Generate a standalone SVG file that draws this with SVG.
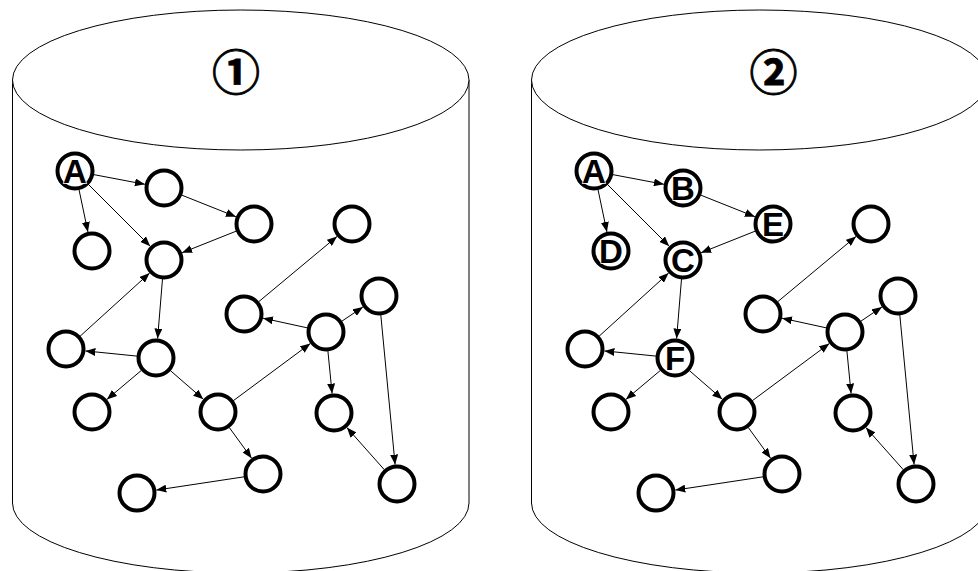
<svg xmlns="http://www.w3.org/2000/svg" width="978" height="571" viewBox="0 0 978 571">
<style>
.cyl{fill:#fff;stroke:#000;stroke-width:1}
.nd{fill:#fff;stroke:#000;stroke-width:4}
.e{stroke:#000;stroke-width:1;fill:none;marker-end:url(#ah)}
.lbl{font-family:"Liberation Sans",Arial,sans-serif;font-weight:bold;font-size:33px;text-anchor:middle;fill:#000;stroke:#fff;stroke-width:1.5;paint-order:stroke}
.num{font-family:"Noto Sans CJK SC","DejaVu Sans",sans-serif;font-weight:bold;font-size:48px;text-anchor:middle;fill:#000;stroke:#000;stroke-width:0.8}
</style>
<defs>
<marker id="ah" markerUnits="userSpaceOnUse" markerWidth="10" markerHeight="8" refX="10" refY="4" orient="auto">
<path d="M0,0 L10,4 L0,8 z" fill="#000"/>
</marker>
</defs>
<rect width="978" height="571" fill="#fff"/>
<g id="cylinder1">
<path class="cyl" d="M12.5,80 L12.5,503 A228.25,70 0 0 0 469,503 L469,80"/>
<ellipse class="cyl" cx="240.75" cy="80" rx="228.25" ry="70"/>
<text class="num" x="236" y="90">①</text>
</g>
<g id="cylinder2">
<path class="cyl" d="M531.5,80 L531.5,503 A228.25,70 0 0 0 988,503 L988,80"/>
<ellipse class="cyl" cx="759.75" cy="80" rx="228.25" ry="70"/>
<text class="num" x="773.5" y="90">②</text>
</g>
<g id="connectors1">
<line class="e" x1="93.7" y1="174.6" x2="144.9" y2="184.3"/>
<line class="e" x1="79" y1="189.6" x2="87.9" y2="231.9"/>
<line class="e" x1="88.4" y1="184.4" x2="150.2" y2="246.2"/>
<line class="e" x1="181.7" y1="195.1" x2="235.9" y2="216.7"/>
<line class="e" x1="236.3" y1="231.1" x2="182.1" y2="252.7"/>
<line class="e" x1="80.1" y1="336.2" x2="149.6" y2="273.1"/>
<line class="e" x1="162.5" y1="278.9" x2="157.6" y2="338.6"/>
<line class="e" x1="137.1" y1="356.1" x2="85.4" y2="350.9"/>
<line class="e" x1="141.5" y1="370.3" x2="106.9" y2="399.4"/>
<line class="e" x1="170.3" y1="370.5" x2="203.3" y2="399.2"/>
<line class="e" x1="233.3" y1="400.7" x2="310.3" y2="343.6"/>
<line class="e" x1="229.2" y1="427.4" x2="251.6" y2="458.2"/>
<line class="e" x1="244.2" y1="476.8" x2="156.3" y2="490.1"/>
<line class="e" x1="258.6" y1="301.8" x2="337" y2="236.5"/>
<line class="e" x1="307.5" y1="327.9" x2="263" y2="318.2"/>
<line class="e" x1="341.7" y1="321.3" x2="362.9" y2="307"/>
<line class="e" x1="327.9" y1="350.9" x2="332.1" y2="393.6"/>
<line class="e" x1="380.8" y1="314.9" x2="395.1" y2="464.6"/>
<line class="e" x1="384.4" y1="469.8" x2="346.9" y2="427.6"/>
</g>
<g id="connectors2" transform="translate(519,0)">
<line class="e" x1="93.7" y1="174.6" x2="144.9" y2="184.3"/>
<line class="e" x1="79" y1="189.6" x2="87.9" y2="231.9"/>
<line class="e" x1="88.4" y1="184.4" x2="150.2" y2="246.2"/>
<line class="e" x1="181.7" y1="195.1" x2="235.9" y2="216.7"/>
<line class="e" x1="236.3" y1="231.1" x2="182.1" y2="252.7"/>
<line class="e" x1="80.1" y1="336.2" x2="149.6" y2="273.1"/>
<line class="e" x1="162.5" y1="278.9" x2="157.6" y2="338.6"/>
<line class="e" x1="137.1" y1="356.1" x2="85.4" y2="350.9"/>
<line class="e" x1="141.5" y1="370.3" x2="106.9" y2="399.4"/>
<line class="e" x1="170.3" y1="370.5" x2="203.3" y2="399.2"/>
<line class="e" x1="233.3" y1="400.7" x2="310.3" y2="343.6"/>
<line class="e" x1="229.2" y1="427.4" x2="251.6" y2="458.2"/>
<line class="e" x1="244.2" y1="476.8" x2="156.3" y2="490.1"/>
<line class="e" x1="258.6" y1="301.8" x2="337" y2="236.5"/>
<line class="e" x1="307.5" y1="327.9" x2="263" y2="318.2"/>
<line class="e" x1="341.7" y1="321.3" x2="362.9" y2="307"/>
<line class="e" x1="327.9" y1="350.9" x2="332.1" y2="393.6"/>
<line class="e" x1="380.8" y1="314.9" x2="395.1" y2="464.6"/>
<line class="e" x1="384.4" y1="469.8" x2="346.9" y2="427.6"/>
</g>
<g id="L-A"><circle class="nd" cx="75" cy="171" r="17.5"/><text class="lbl" x="75" y="183">A</text></g>
<g id="L-n2"><circle class="nd" cx="164" cy="188" r="17.5"/></g>
<g id="L-n3"><circle class="nd" cx="92" cy="251" r="17.5"/></g>
<g id="L-n4"><circle class="nd" cx="164" cy="260" r="17.5"/></g>
<g id="L-n5"><circle class="nd" cx="254" cy="224" r="17.5"/></g>
<g id="L-n6"><circle class="nd" cx="352" cy="224" r="17.5"/></g>
<g id="L-n7"><circle class="nd" cx="244" cy="314" r="17.5"/></g>
<g id="L-n8"><circle class="nd" cx="326" cy="332" r="17.5"/></g>
<g id="L-n9"><circle class="nd" cx="379" cy="296" r="17.5"/></g>
<g id="L-n10"><circle class="nd" cx="66" cy="349" r="17.5"/></g>
<g id="L-n11"><circle class="nd" cx="156" cy="358" r="17.5"/></g>
<g id="L-n12"><circle class="nd" cx="92" cy="412" r="17.5"/></g>
<g id="L-n13"><circle class="nd" cx="218" cy="412" r="17.5"/></g>
<g id="L-n14"><circle class="nd" cx="334" cy="413" r="17.5"/></g>
<g id="L-n15"><circle class="nd" cx="263" cy="474" r="17.5"/></g>
<g id="L-n16"><circle class="nd" cx="137" cy="493" r="17.5"/></g>
<g id="L-n17"><circle class="nd" cx="397" cy="484" r="17.5"/></g>
<g id="R-A"><circle class="nd" cx="594" cy="171" r="17.5"/><text class="lbl" x="594" y="183">A</text></g>
<g id="R-B"><circle class="nd" cx="683" cy="188" r="17.5"/><text class="lbl" x="683" y="200">B</text></g>
<g id="R-D"><circle class="nd" cx="611" cy="251" r="17.5"/><text class="lbl" x="611" y="263">D</text></g>
<g id="R-C"><circle class="nd" cx="683" cy="260" r="17.5"/><text class="lbl" x="683" y="272">C</text></g>
<g id="R-E"><circle class="nd" cx="773" cy="224" r="17.5"/><text class="lbl" x="773" y="236">E</text></g>
<g id="R-n6"><circle class="nd" cx="871" cy="224" r="17.5"/></g>
<g id="R-n7"><circle class="nd" cx="763" cy="314" r="17.5"/></g>
<g id="R-n8"><circle class="nd" cx="845" cy="332" r="17.5"/></g>
<g id="R-n9"><circle class="nd" cx="898" cy="296" r="17.5"/></g>
<g id="R-n10"><circle class="nd" cx="585" cy="349" r="17.5"/></g>
<g id="R-F"><circle class="nd" cx="675" cy="358" r="17.5"/><text class="lbl" x="675" y="370">F</text></g>
<g id="R-n12"><circle class="nd" cx="611" cy="412" r="17.5"/></g>
<g id="R-n13"><circle class="nd" cx="737" cy="412" r="17.5"/></g>
<g id="R-n14"><circle class="nd" cx="853" cy="413" r="17.5"/></g>
<g id="R-n15"><circle class="nd" cx="782" cy="474" r="17.5"/></g>
<g id="R-n16"><circle class="nd" cx="656" cy="493" r="17.5"/></g>
<g id="R-n17"><circle class="nd" cx="916" cy="484" r="17.5"/></g>
</svg>
